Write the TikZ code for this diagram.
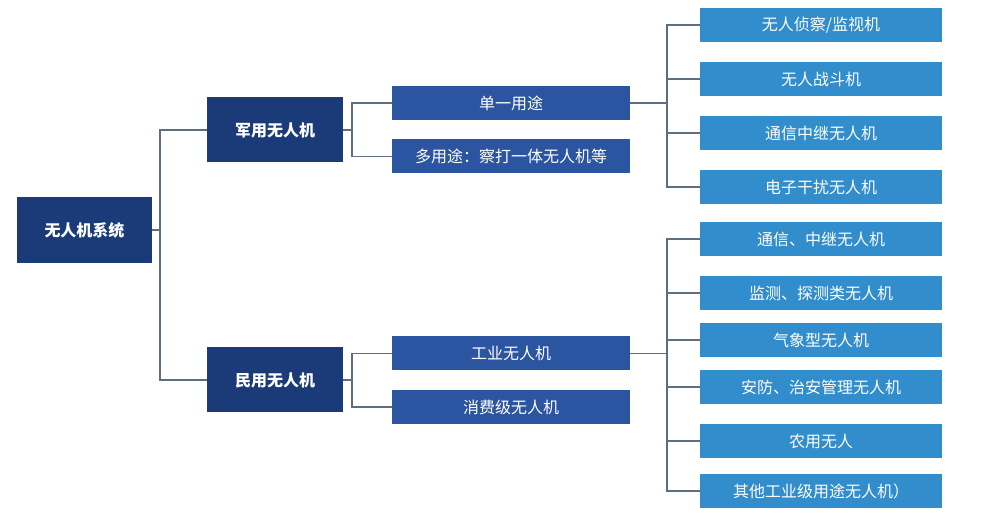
\documentclass[tikz,border=0pt]{standalone}
\usepackage{fontspec}
\setmainfont{Noto Sans CJK SC}
\begin{document}
\begin{tikzpicture}[x=1pt,y=-1pt,
 bx/.style={draw=none,text=white,inner sep=0pt,font=\fontsize{16}{19}\selectfont},
 root/.style={bx,fill=cA,minimum width=135pt,minimum height=66pt,font=\fontsize{16}{19}\selectfont\bfseries},
 lone/.style={bx,fill=cA,minimum width=136pt,minimum height=65pt,font=\fontsize{16}{19}\selectfont\bfseries},
 ltwo/.style={bx,fill=cB,minimum width=238pt,minimum height=34pt},
 leaf/.style={bx,fill=cC,minimum width=242pt,minimum height=34pt},
 ln/.style={draw=lc,line width=1.6pt}]
\definecolor{cA}{HTML}{1B3A78}
\definecolor{cB}{HTML}{2B55A0}
\definecolor{cC}{HTML}{318DCB}
\definecolor{lc}{HTML}{5E6E80}
\useasboundingbox (0,0) rectangle (1005,518);
\node[root] (r) at (84.5,230) {无人机系统};
\node[lone] (m) at (275,130) {军用无人机};
\node[lone] (cv) at (275,380) {民用无人机};
\node[ltwo] (m1) at (511,103) {单一用途};
\node[ltwo] (m2) at (511,156.5) {多用途：察打一体无人机等};
\node[ltwo] (c1) at (511,353.5) {工业无人机};
\node[ltwo] (c2) at (511,407) {消费级无人机};
\foreach \n/\y/\t in {La/25/{无人侦察/监视机},Lb/79/{无人战斗机},Lc/133/{通信中继无人机},Ld/187/{电子干扰无人机},
 Le/239/{通信、中继无人机},Lf/293/{监测、探测类无人机},Lg/340/{气象型无人机},Lh/387/{安防、治安管理无人机},Li/441/{农用无人},Lj/491/{其他工业级用途无人机）}}
 \node[leaf] (\n) at (821,\y) {\t};
\draw[ln] (r.east) -- (160,230);
\draw[ln] (m.west) -- (160,130) -- (160,380) -- (cv.west);
\draw[ln] (m.east) -- (352,130);
\draw[ln] (m1.west) -- (352,103) -- (352,156.5) -- (m2.west);
\draw[ln] (cv.east) -- (352,380);
\draw[ln] (c1.west) -- (352,353.5) -- (352,407) -- (c2.west);
\draw[ln] (m1.east) -- (667,103);
\draw[ln] (La.west) -- (667,25) -- (667,187) -- (Ld.west);
\foreach \n in {Lb,Lc} \draw[ln] (\n.west) -- (\n.west -| 667,0);
\draw[ln] (c1.east) -- (667,353.5);
\draw[ln] (Le.west) -- (667,239) -- (667,491) -- (Lj.west);
\foreach \n in {Lf,Lg,Lh,Li} \draw[ln] (\n.west) -- (\n.west -| 667,0);
\end{tikzpicture}
\end{document}
